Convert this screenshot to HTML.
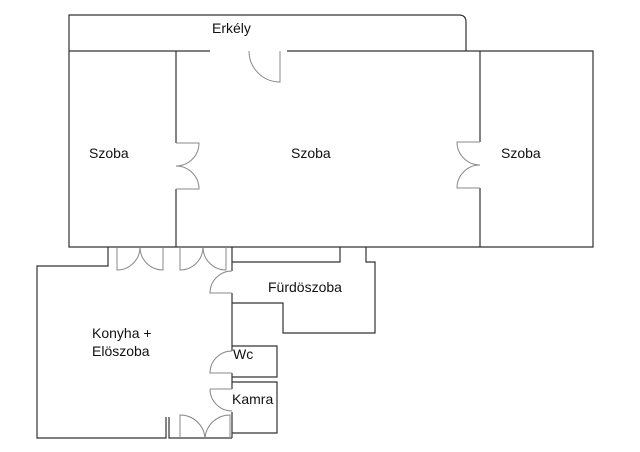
<!DOCTYPE html>
<html><head><style>
body{margin:0;background:#fff;width:640px;height:452px;overflow:hidden}
svg{position:absolute;left:0;top:0}
text{font-family:"Liberation Sans",Arial,sans-serif;font-size:14px;fill:#111}
</style></head><body>
<svg width="640" height="452" viewBox="0 0 640 452">
<g fill="none" stroke="#333" stroke-width="1.2">
<path d="M69 51 V15 H459 Q466 15 466 22 V51"/>
<path d="M210 51 H69 V247 H593 V51 H287"/>
<path d="M176 51 V143 M176 189 V247"/>
<path d="M480 51 V142 M480 188 V247"/>
<path d="M108 247 V266 H37 V438 H166 V417 M169 417 V438 H232"/>
<path d="M232 247 V271 M232 293 V351 M232 373 V389 M232 412 V438"/>
<path d="M340 247 V262 H232 M366 247 V262 H375 V333 H283 V303 H232"/>
<path d="M232 346 H277 V377 H232"/>
<path d="M232 382 H277 V433 H232"/>
</g>
<g fill="none" stroke="#888" stroke-width="1">
<path d="M280 51 V82 A31 31 0 0 1 249 51"/>
<path d="M176 143 H199 A23 23 0 0 1 176 166 A23 23 0 0 1 199 189 H176"/>
<path d="M480 142 H457 A23 23 0 0 0 480 165 A23 23 0 0 0 457 188 H480"/>
<path d="M117 247 V270 A23 23 0 0 0 140 247 A23 23 0 0 0 163 270 V247"/>
<path d="M180 247 V270 A23 23 0 0 0 203 247 A23 23 0 0 0 226 270 V247"/>
<path d="M232 271 A22 22 0 0 0 210 293 H232"/>
<path d="M232 351 A22 22 0 0 0 210 373 H232"/>
<path d="M210 389 H232 M210 389 A22 22 0 0 0 232 411"/>
<path d="M180 438 V415 A25 25 0 0 1 205 438 A25 25 0 0 1 230 415 V438"/>
</g>
<text x="212" y="33">Erkély</text>
<text x="89" y="158">Szoba</text>
<text x="291" y="158">Szoba</text>
<text x="501" y="158">Szoba</text>
<text x="268" y="292">Fürdöszoba</text>
<text x="92" y="338">Konyha +</text>
<text x="92" y="356">Elöszoba</text>
<text x="233" y="359">Wc</text>
<text x="232" y="404">Kamra</text>
</svg>
</body></html>
